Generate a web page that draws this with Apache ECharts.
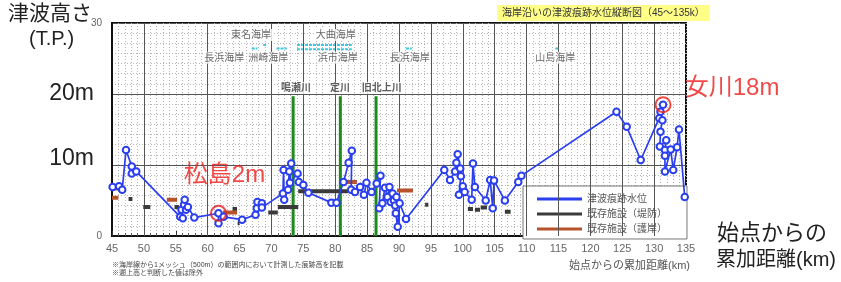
<!DOCTYPE html>
<html><head><meta charset="utf-8">
<script src="https://cdn.jsdelivr.net/npm/echarts@6/dist/echarts.min.js"></script>
<style>html,body{margin:0;padding:0;background:#fff}#c{width:841px;height:282px}</style>
</head><body><div id="c"></div>
<script>
// ---- data ----
const traceKm = [45.1,46.1,46.6,47.2,48.1,48.1,48.8,55.7,56.1,55.9,56.3,56.4,56.6,56.9,57.9,61.7,61.7,62.5,65.4,67.5,67.7,67.8,68.5,68.5,71.8,71.9,72.0,72.6,72.8,73.1,72.9,74.1,74.3,75.0,75.8,79.4,80.2,81.3,82.1,82.6,82.5,83.1,83.9,84.5,84.9,85.7,86.5,87.1,86.9,87.4,87.8,88.2,88.5,88.7,89.0,89.2,89.4,89.6,89.5,89.8,90.1,91.1,97.1,98.0,98.8,99.0,99.2,99.6,99.7,99.4,100.0,100.3,101.4,101.6,101.9,103.6,104.3,104.7,104.9,106.6,108.7,109.2,124.1,125.7,127.9,130.8,131.4,131.0,131.3,131.0,130.9,131.9,131.7,131.7,131.7,132.6,133.0,133.6,133.9,134.8];
const traceM  = [6.9,7.0,6.5,12.1,9.8,8.8,9.1,2.7,2.5,3.7,4.4,5.1,3.7,4.1,2.6,3.2,1.8,2.7,2.3,3.0,3.9,4.8,4.6,4.0,6.0,9.3,5.1,6.5,9.1,10.2,7.5,8.8,7.6,7.2,6.1,4.7,4.7,7.6,10.3,12.0,6.5,6.2,6.9,5.8,7.5,6.2,7.4,8.5,3.9,4.6,6.8,5.5,6.9,4.8,6.0,5.0,4.3,5.5,3.2,1.3,4.6,2.4,9.3,7.9,9.1,10.3,11.5,9.5,8.4,5.8,7.0,6.2,5.1,10.2,6.9,5.0,7.9,3.9,7.8,5.0,7.6,8.5,17.5,15.4,10.7,16.6,18.5,17.5,16.3,14.7,12.6,13.5,12.1,11.3,9.1,12.2,9.3,12.5,15.0,5.5];

const leveeStart = [47.6,49.9,54.8,63.9,64.7,69.5,71.0,74.2,94.1,100.8,101.9,102.8,106.6];
const leveeEnd   = [48.2,51.0,55.5,64.6,65.0,71.0,74.2,82.0,94.6,101.6,102.7,103.8,107.5];
const leveeM     = [5.2,4.1,4.1,3.8,1.8,3.3,4.1,6.3,4.4,3.8,3.7,4.0,3.4];

const revetStart = [45.0,45.3,53.6,62.4,81.2,89.7];
const revetEnd   = [46.0,46.2,55.2,64.6,83.4,92.2];
const revetM     = [5.4,6.7,5.1,3.3,7.6,6.4];

const coastSegStart = [66.9,68.7,70.8,74.0,74.0,91.1,114.5];
const coastSegEnd   = [67.8,69.2,72.4,82.6,82.6,92.0,115.0];
const coastSegM     = [26.4,26.9,26.4,26.9,26.3,26.4,26.4];

const coastNames = ['東名海岸','大曲海岸','長浜海岸','洲崎海岸','浜市海岸','長浜海岸','山島海岸'];
const coastKm    = [66.8,80.1,62.6,69.5,80.4,91.7,114.5];
const coastM     = [28.3,28.3,25.1,25.1,25.1,25.1,25.1];

const riverNames = ['鳴瀬川','定川','旧北上川'];
const riverKm    = [73.4,80.8,86.4];
const riverLabelKm = [73.85,80.75,87.3];
const riverTopM  = 19.7;
const riverLabelM = 20.85;

const hiNames = ['松島2m','女川18m'];
const hiKm    = [61.7,131.4];
const hiM     = [3.2,18.5];

const solidGridKm = [50,60,70,75,80,85,90,95,100,105,110,115,120,125,130];

// ---- helpers ----
function segs(s,e,m){const d=[];for(let i=0;i<s.length;i++){d.push([s[i],m[i]],[e[i],m[i]],[e[i],'-']);}return d;}
const FF = "'Liberation Sans','Noto Sans CJK JP',sans-serif";
const dotted = {color:'#b4b4b4', type:[1,2], width:1};

const chart = echarts.init(document.getElementById('c'));
chart.setOption({
  animation:false,
  textStyle:{fontFamily:FF},
  title:{text:'海岸沿いの津波痕跡水位縦断図（45～135k）', left:497, top:5, backgroundColor:'#ffff88', padding:[3,5],
    textStyle:{fontSize:10, fontWeight:'normal', color:'#333', fontFamily:FF}},
  grid:{left:112, right:155, top:23, bottom:46, show:true, borderColor:'#111', borderWidth:2},
  legend:{left:523, top:186, orient:'vertical', backgroundColor:'#fff', borderColor:'#777', borderWidth:1,
    padding:[8,20,5,14], itemWidth:45, itemHeight:3, itemGap:5,
    textStyle:{fontSize:10, color:'#555', fontFamily:FF},
    data:[{name:'津波痕跡水位', icon:'rect'},{name:'既存施設（堤防）', icon:'rect'},{name:'既存施設（護岸）', icon:'rect'}]},
  xAxis:{type:'value', min:45, max:135, interval:5,
    axisLine:{lineStyle:{color:'#111', width:2}},
    axisTick:{show:true, inside:true, length:5, lineStyle:{color:'#333'}},
    minorTick:{show:true, splitNumber:5, length:3, lineStyle:{color:'#555'}},
    axisLabel:{fontSize:11, color:'#666', margin:7},
    splitLine:{show:true, lineStyle:dotted},
    minorSplitLine:{show:true, lineStyle:dotted}},
  yAxis:{type:'value', min:0, max:30, interval:10,
    axisLine:{show:true, lineStyle:{color:'#111', width:2}},
    axisTick:{show:false},
    minorTick:{show:true, splitNumber:7, length:0},
    minorSplitLine:{show:true, lineStyle:dotted},
    splitLine:{show:true, lineStyle:{color:'#555', width:1}},
    axisLabel:{margin:10, formatter:v=> v===20?'{b|20m}':(v===10?'{c|10m}':'{s|'+v+'}'),
      rich:{b:{fontSize:23, color:'#222', padding:[0,8,0,0], fontFamily:FF},
            c:{fontSize:23, color:'#222', padding:[0,8,12,0], fontFamily:FF},
            s:{fontSize:10, color:'#666', fontFamily:FF}}}},
  graphic:[
    {type:'text', left:8, top:4, style:{text:'津波高さ', fontSize:21, fill:'#222', fontFamily:FF}},
    {type:'text', left:29, top:29, style:{text:'(T.P.)', fontSize:20, fill:'#222', fontFamily:FF}},
    {type:'text', left:717, top:223, style:{text:'始点からの', fontSize:22, fill:'#222', fontFamily:FF}},
    {type:'text', left:716, top:250, style:{text:'累加距離(km)', fontSize:20, fill:'#222', fontFamily:FF}},
    {type:'text', right:151, top:260, style:{text:'始点からの累加距離(km)', fontSize:11, fill:'#555', fontFamily:FF}},
    {type:'text', left:112, top:261, style:{text:'※海岸線から1メッシュ（500m）の範囲内において計測した痕跡高を記載\n※遡上高と判断した値は除外', fontSize:7, lineHeight:8, fill:'#444', fontFamily:FF}}
  ],
  series:[
    {type:'line', name:'grid', data:[], silent:true, z:1,
      markLine:{silent:true, symbol:'none', label:{show:false}, animation:false,
        lineStyle:{color:'#555', type:'solid', width:1}, data:solidGridKm.map(v=>({xAxis:v}))}},
    {type:'line', name:'coast', data:segs(coastSegStart,coastSegEnd,coastSegM), symbol:'none', z:3,
      lineStyle:{color:'#3cc8e0', width:2, type:[3,1]}},
    {type:'line', name:'river', data:segs(riverKm,riverKm,riverKm.map(()=>0)).map((p,i)=> (i%3===1)?[p[0],riverTopM]:p), symbol:'none', z:4,
      lineStyle:{color:'#1d8a1d', width:3}},
    {type:'line', name:'既存施設（堤防）', data:segs(leveeStart,leveeEnd,leveeM), symbol:'none', z:5,
      itemStyle:{color:'#3a3a3a'}, lineStyle:{color:'#3a3a3a', width:4}},
    {type:'line', name:'既存施設（護岸）', data:segs(revetStart,revetEnd,revetM), symbol:'none', z:5,
      itemStyle:{color:'#b5532a'}, lineStyle:{color:'#b5532a', width:4}},
    {type:'line', name:'津波痕跡水位', data:traceKm.map((k,i)=>[k,traceM[i]]), z:6,
      symbol:'emptyCircle', symbolSize:6.5, itemStyle:{color:'#2b3ff0', borderWidth:1.5},
      lineStyle:{color:'#2b3ff0', width:1.7}},
    {type:'scatter', name:'coastLabels', data:coastKm.map((k,i)=>({value:[k,coastM[i]], name:coastNames[i]})), symbol:'circle', symbolSize:1, z:7,
      itemStyle:{color:'rgba(0,0,0,0)'},
      label:{show:true, position:'inside', formatter:p=>p.name, fontSize:10, color:'#444', backgroundColor:'#fff', padding:[1,1]}},
    {type:'scatter', name:'riverLabels', data:riverLabelKm.map((k,i)=>({value:[k,riverLabelM], name:riverNames[i]})), symbol:'circle', symbolSize:1, z:7,
      itemStyle:{color:'rgba(0,0,0,0)'},
      label:{show:true, position:'inside', formatter:p=>p.name, fontSize:10, fontWeight:'bold', color:'#333', backgroundColor:'#fff', padding:[1,1]}},
    {type:'scatter', name:'highlight', data:hiKm.map((k,i)=>({value:[k,hiM[i]], name:hiNames[i],
        label:{offset: i===0?[6,-38]:[69,-16]}})), z:8,
      symbol:'circle', symbolSize:15, itemStyle:{color:'rgba(0,0,0,0)', borderColor:'#ee1a1a', borderWidth:2},
      label:{show:true, position:'inside', formatter:p=>p.name, fontSize:24, color:'#ee1a1a', fontFamily:FF}}
  ]
});
</script></body></html>
